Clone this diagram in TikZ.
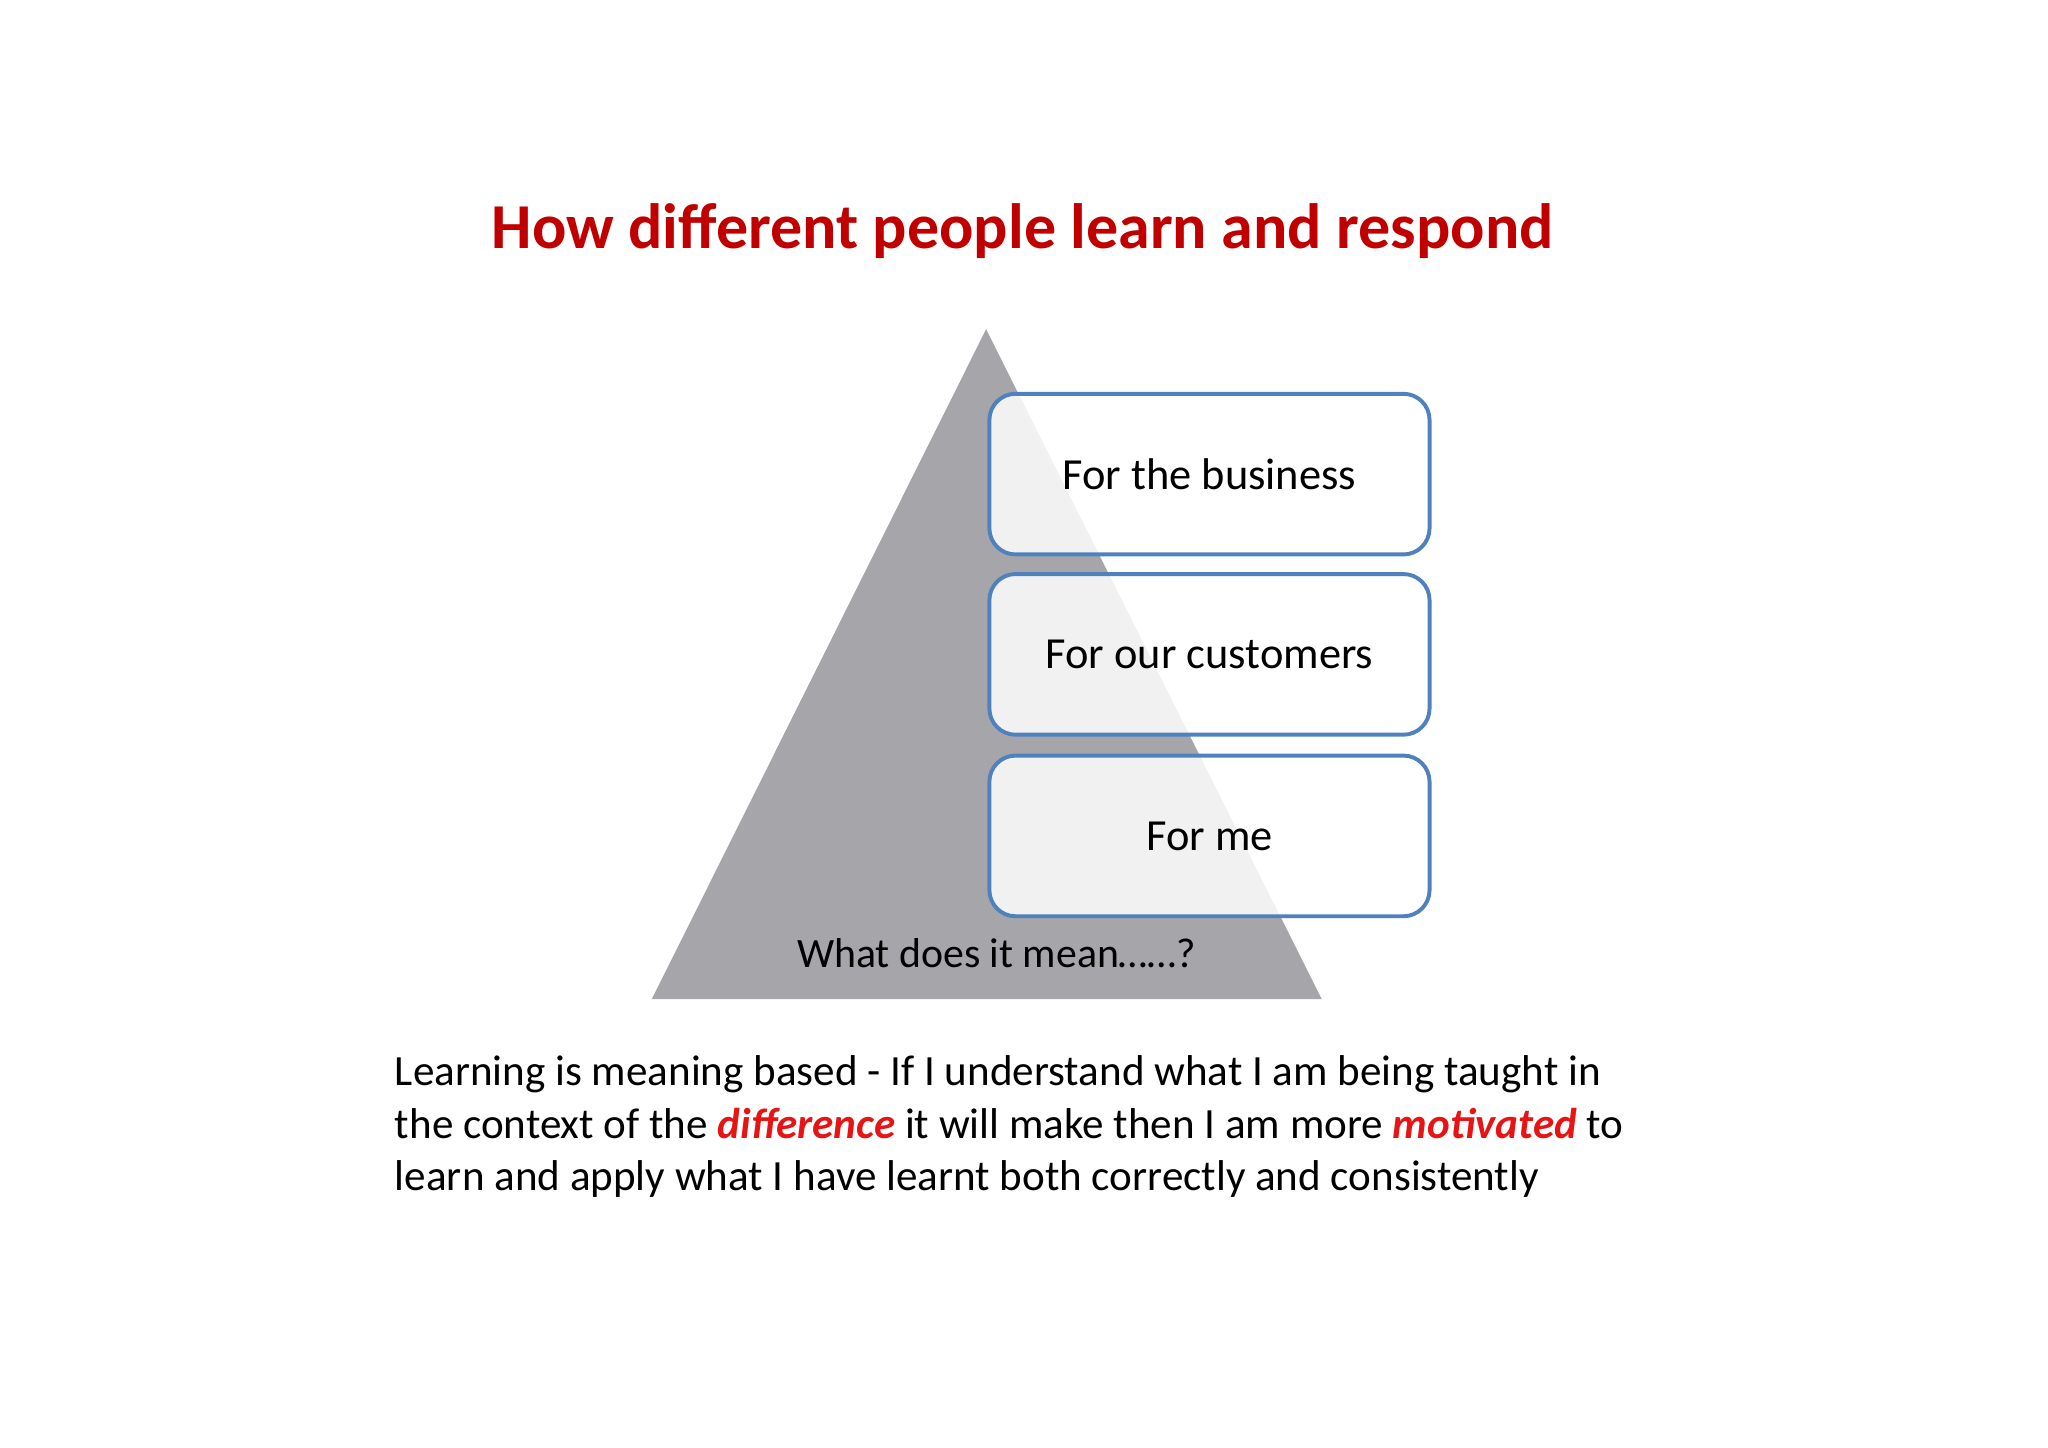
\documentclass[tikz,border=0pt]{standalone}
\usepackage{fontspec}
\setmainfont{Carlito}
\definecolor{tri}{RGB}{166,165,170}
\definecolor{bord}{RGB}{79,129,189}
\definecolor{titred}{RGB}{192,0,0}
\definecolor{hl}{RGB}{230,20,20}
\begin{document}
\begin{tikzpicture}[x=0.5pt,y=-0.5pt,
  box/.style={draw=bord,line width=1.5pt,rounded corners=10pt,fill=white,fill opacity=0.85,text opacity=1,minimum width=168.5pt,minimum height=61.5pt,anchor=north west,inner sep=0pt,font=\fontsize{17}{20}\selectfont}]
\useasboundingbox (0,0) rectangle (1568,1108);
\node[font=\bfseries\fontsize{24.5}{28}\selectfont,text=titred] (title) at (783,177) {How different people learn and respond};
\fill[tri] (755,252) -- (1012,765) -- (499,765) -- cycle;
\node[box] (b1) at (756,300) {For the business};
\node[box] (b2) at (756,438) {For our customers};
\node[box] (b3) at (756,577) {For me};
\node[font=\fontsize{16}{20}\selectfont] (q) at (763,730) {What does it mean……?};
\node[anchor=north west,align=left,inner sep=0pt,font=\fontsize{16.5}{20}\selectfont] (p) at (302,808) {Learning is meaning based - If I understand what I am being taught in\\the context of the \textcolor{hl}{\bfseries\itshape difference} it will make then I am more \textcolor{hl}{\bfseries\itshape motivated} to\\learn and apply what I have learnt both correctly and consistently};
\end{tikzpicture}
\end{document}
